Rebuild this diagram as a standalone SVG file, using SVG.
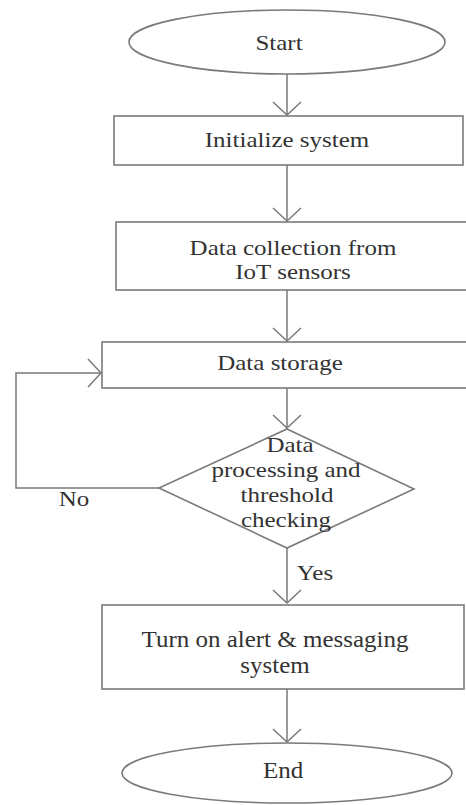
<svg xmlns="http://www.w3.org/2000/svg" width="466" height="805" viewBox="0 0 466 805">
  <style>
    .shape { fill: #ffffff; stroke: #7a7a7a; stroke-width: 1.6; }
    .wire { fill: none; stroke: #7a7a7a; stroke-width: 1.5; }
    .lbl { font-family: "Liberation Serif", "Times New Roman", serif; font-size: 25px; fill: #333333; text-anchor: middle; }
  </style>
  <defs>
    <marker id="arrow" viewBox="-14 -16 16 32" refX="0" refY="0" markerWidth="16" markerHeight="32" markerUnits="userSpaceOnUse" orient="auto">
      <path d="M-13,-14 L0,0 L-13,14" fill="none" stroke="#7a7a7a" stroke-width="1.5"/>
    </marker>
  </defs>

  <rect width="466" height="805" fill="#ffffff"/>

  <!-- connectors -->
  <g id="connectors">
    <line class="wire" x1="287" y1="74" x2="287" y2="115" marker-end="url(#arrow)"/>
    <line class="wire" x1="287" y1="165" x2="287" y2="221" marker-end="url(#arrow)"/>
    <line class="wire" x1="287" y1="290" x2="287" y2="341" marker-end="url(#arrow)"/>
    <line class="wire" x1="287" y1="388" x2="287" y2="428" marker-end="url(#arrow)"/>
    <line class="wire" x1="287" y1="548" x2="287" y2="603" marker-end="url(#arrow)"/>
    <line class="wire" x1="287" y1="689" x2="287" y2="742" marker-end="url(#arrow)"/>
    <polyline class="wire" points="159,488 16,488 16,373 101,373" marker-end="url(#arrow)"/>
    <text class="lbl" transform="translate(74 506) scale(1 0.88)">No</text>
    <text class="lbl" transform="translate(315 580) scale(1 0.88)">Yes</text>
  </g>

  <g id="start">
    <ellipse class="shape" cx="287" cy="42" rx="158" ry="32"/>
    <text class="lbl" transform="translate(279 50) scale(1 0.88)">Start</text>
  </g>

  <g id="initialize">
    <rect class="shape" x="114" y="116" width="349" height="49"/>
    <text class="lbl" transform="translate(287 147) scale(1 0.88)">Initialize system</text>
  </g>

  <g id="collection">
    <rect class="shape" x="116" y="222" width="356" height="68"/>
    <text class="lbl" transform="translate(293 255) scale(1 0.85)">Data collection from</text>
    <text class="lbl" transform="translate(293 279) scale(1 0.85)">IoT sensors</text>
  </g>

  <g id="storage">
    <rect class="shape" x="102" y="342" width="370" height="46"/>
    <text class="lbl" transform="translate(280 370) scale(1 0.88)">Data storage</text>
  </g>

  <g id="decision">
    <polygon class="shape" points="287,429 414,489 287,548 159,488"/>
    <text class="lbl" transform="translate(290 452) scale(1 0.85)">Data</text>
    <text class="lbl" transform="translate(286 477) scale(1 0.85)">processing and</text>
    <text class="lbl" transform="translate(287 502) scale(1 0.85)">threshold</text>
    <text class="lbl" transform="translate(286 527) scale(1 0.85)">checking</text>
  </g>

  <g id="alert">
    <rect class="shape" x="102" y="605" width="362" height="84"/>
    <text class="lbl" transform="translate(275 647) scale(1 0.9)">Turn on alert &amp; messaging</text>
    <text class="lbl" transform="translate(275 673) scale(1 0.9)">system</text>
  </g>

  <g id="end">
    <ellipse class="shape" cx="287" cy="773" rx="165" ry="30"/>
    <text class="lbl" transform="translate(283 778) scale(1 0.9)">End</text>
  </g>
</svg>
